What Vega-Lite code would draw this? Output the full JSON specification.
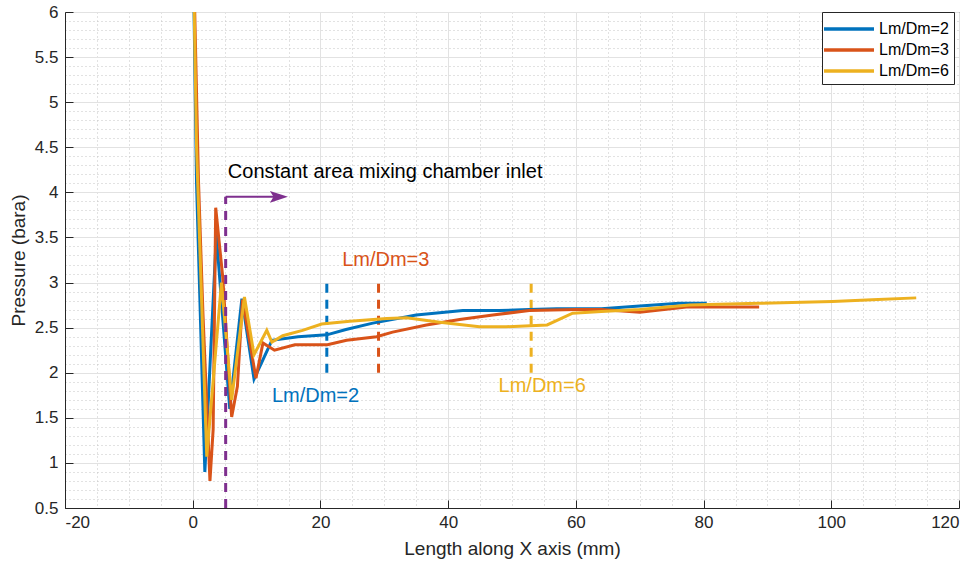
{
  "$schema": "https://vega.github.io/schema/vega-lite/v6.json",
  "autosize": {"type": "none"},
  "width": 894,
  "height": 496,
  "padding": {"left": 65, "top": 12, "right": 16, "bottom": 56},
  "background": "white",
  "config": {
    "view": {"stroke": "#262626", "strokeWidth": 1},
    "font": "Liberation Sans",
    "axis": {
      "domainColor": "#262626",
      "tickColor": "#262626",
      "labelColor": "#262626",
      "titleColor": "#262626",
      "labelFont": "Liberation Sans",
      "titleFont": "Liberation Sans",
      "labelFontSize": 17,
      "titleFontSize": 19,
      "titleFontWeight": "normal",
      "labelOverlap": false,
      "tickCount": 1000
    }
  },
  "datasets": {
    "curves": [
      {"series": "Lm/Dm=2", "x": 0, "y": 7.0},
      {"series": "Lm/Dm=2", "x": 0.6, "y": 4.1},
      {"series": "Lm/Dm=2", "x": 1.9, "y": 0.9},
      {"series": "Lm/Dm=2", "x": 3.7, "y": 3.53},
      {"series": "Lm/Dm=2", "x": 5.8, "y": 1.6},
      {"series": "Lm/Dm=2", "x": 7.7, "y": 2.82},
      {"series": "Lm/Dm=2", "x": 9.6, "y": 1.93},
      {"series": "Lm/Dm=2", "x": 12.4, "y": 2.36},
      {"series": "Lm/Dm=2", "x": 16.5, "y": 2.4},
      {"series": "Lm/Dm=2", "x": 21, "y": 2.42},
      {"series": "Lm/Dm=2", "x": 24, "y": 2.48},
      {"series": "Lm/Dm=2", "x": 28.2, "y": 2.55},
      {"series": "Lm/Dm=2", "x": 35, "y": 2.64},
      {"series": "Lm/Dm=2", "x": 42.3, "y": 2.69},
      {"series": "Lm/Dm=2", "x": 48, "y": 2.69},
      {"series": "Lm/Dm=2", "x": 52.7, "y": 2.7},
      {"series": "Lm/Dm=2", "x": 57, "y": 2.71},
      {"series": "Lm/Dm=2", "x": 64, "y": 2.71},
      {"series": "Lm/Dm=2", "x": 70, "y": 2.74},
      {"series": "Lm/Dm=2", "x": 76.2, "y": 2.77},
      {"series": "Lm/Dm=2", "x": 80.5, "y": 2.77},
      {"series": "Lm/Dm=3", "x": 0, "y": 7.0},
      {"series": "Lm/Dm=3", "x": 0.9, "y": 4.14},
      {"series": "Lm/Dm=3", "x": 1.6, "y": 2.66},
      {"series": "Lm/Dm=3", "x": 2.7, "y": 0.8},
      {"series": "Lm/Dm=3", "x": 3.2, "y": 1.37},
      {"series": "Lm/Dm=3", "x": 3.6, "y": 3.83},
      {"series": "Lm/Dm=3", "x": 4.7, "y": 3.06},
      {"series": "Lm/Dm=3", "x": 6.1, "y": 1.51},
      {"series": "Lm/Dm=3", "x": 7.0, "y": 1.85},
      {"series": "Lm/Dm=3", "x": 7.8, "y": 2.81},
      {"series": "Lm/Dm=3", "x": 9.9, "y": 1.94},
      {"series": "Lm/Dm=3", "x": 11.0, "y": 2.33},
      {"series": "Lm/Dm=3", "x": 12.8, "y": 2.25},
      {"series": "Lm/Dm=3", "x": 16, "y": 2.31},
      {"series": "Lm/Dm=3", "x": 21.1, "y": 2.31},
      {"series": "Lm/Dm=3", "x": 24.1, "y": 2.36},
      {"series": "Lm/Dm=3", "x": 28.8, "y": 2.4},
      {"series": "Lm/Dm=3", "x": 31.3, "y": 2.45},
      {"series": "Lm/Dm=3", "x": 36.6, "y": 2.53},
      {"series": "Lm/Dm=3", "x": 41.8, "y": 2.59},
      {"series": "Lm/Dm=3", "x": 47, "y": 2.64},
      {"series": "Lm/Dm=3", "x": 52.7, "y": 2.69},
      {"series": "Lm/Dm=3", "x": 60, "y": 2.7},
      {"series": "Lm/Dm=3", "x": 64, "y": 2.7},
      {"series": "Lm/Dm=3", "x": 70, "y": 2.67},
      {"series": "Lm/Dm=3", "x": 77.3, "y": 2.73},
      {"series": "Lm/Dm=3", "x": 88.7, "y": 2.73},
      {"series": "Lm/Dm=6", "x": 0, "y": 7.0},
      {"series": "Lm/Dm=6", "x": 0.6, "y": 4.5},
      {"series": "Lm/Dm=6", "x": 2.2, "y": 1.07},
      {"series": "Lm/Dm=6", "x": 4.5, "y": 3.0},
      {"series": "Lm/Dm=6", "x": 6.1, "y": 1.7},
      {"series": "Lm/Dm=6", "x": 8.1, "y": 2.84},
      {"series": "Lm/Dm=6", "x": 9.6, "y": 2.2},
      {"series": "Lm/Dm=6", "x": 11.6, "y": 2.47},
      {"series": "Lm/Dm=6", "x": 12.4, "y": 2.34},
      {"series": "Lm/Dm=6", "x": 14.1, "y": 2.41},
      {"series": "Lm/Dm=6", "x": 17.2, "y": 2.47},
      {"series": "Lm/Dm=6", "x": 20.2, "y": 2.54},
      {"series": "Lm/Dm=6", "x": 24.6, "y": 2.57},
      {"series": "Lm/Dm=6", "x": 30.4, "y": 2.6},
      {"series": "Lm/Dm=6", "x": 33.5, "y": 2.61},
      {"series": "Lm/Dm=6", "x": 38.7, "y": 2.56},
      {"series": "Lm/Dm=6", "x": 44.9, "y": 2.51},
      {"series": "Lm/Dm=6", "x": 49.1, "y": 2.51},
      {"series": "Lm/Dm=6", "x": 55.5, "y": 2.53},
      {"series": "Lm/Dm=6", "x": 59.5, "y": 2.66},
      {"series": "Lm/Dm=6", "x": 64, "y": 2.68},
      {"series": "Lm/Dm=6", "x": 70, "y": 2.7},
      {"series": "Lm/Dm=6", "x": 77.8, "y": 2.75},
      {"series": "Lm/Dm=6", "x": 88.7, "y": 2.77},
      {"series": "Lm/Dm=6", "x": 100.2, "y": 2.79},
      {"series": "Lm/Dm=6", "x": 106.4, "y": 2.81},
      {"series": "Lm/Dm=6", "x": 113.3, "y": 2.83}
    ],
    "markers": [
      {"series": "Lm/Dm=2", "x": 21.0, "y": 2.0, "y2": 3.0, "label": "Lm/Dm=2", "lx": 12.4, "ly": 1.68},
      {"series": "Lm/Dm=3", "x": 29.1, "y": 2.0, "y2": 3.0, "label": "Lm/Dm=3", "lx": 23.4, "ly": 3.18},
      {"series": "Lm/Dm=6", "x": 53.0, "y": 2.0, "y2": 3.0, "label": "Lm/Dm=6", "lx": 47.9, "ly": 1.79}
    ],
    "inlet": [
      {"x": 5.16, "y": 0.5, "y2": 3.95, "x2": 13.5, "label": "Constant area mixing chamber inlet", "lx": 5.5, "ly": 4.16}
    ]
  },
  "layer": [
    {
      "data": {"name": "markers"},
      "transform": [{"filter": "datum.series === 'Lm/Dm=2'"}],
      "mark": {"type": "rule", "strokeWidth": 3, "strokeDash": [9, 7], "color": "#0072BD"},
      "encoding": {
        "x": {"field": "x", "type": "quantitative"},
        "y": {"field": "y", "type": "quantitative"},
        "y2": {"field": "y2"}
      }
    },
    {
      "data": {"name": "markers"},
      "transform": [{"filter": "datum.series === 'Lm/Dm=3'"}],
      "mark": {"type": "rule", "strokeWidth": 3, "strokeDash": [9, 7], "color": "#D95319"},
      "encoding": {
        "x": {"field": "x", "type": "quantitative"},
        "y": {"field": "y", "type": "quantitative"},
        "y2": {"field": "y2"}
      }
    },
    {
      "data": {"name": "markers"},
      "transform": [{"filter": "datum.series === 'Lm/Dm=6'"}],
      "mark": {"type": "rule", "strokeWidth": 3, "strokeDash": [9, 7], "color": "#EDB120"},
      "encoding": {
        "x": {"field": "x", "type": "quantitative"},
        "y": {"field": "y", "type": "quantitative"},
        "y2": {"field": "y2"}
      }
    },
    {
      "data": {"name": "curves"},
      "mark": {"type": "line", "strokeWidth": 3, "clip": true},
      "encoding": {
        "x": {
          "field": "x", "type": "quantitative",
          "scale": {"domain": [-20, 120], "nice": false, "zero": false},
          "axis": {
            "title": "Length along X axis (mm)",
            "titlePadding": 9,
            "values": [-20,-15,-10,-5,0,5,10,15,20,25,30,35,40,45,50,55,60,65,70,75,80,85,90,95,100,105,110,115,120],
            "labelExpr": "datum.value % 20 === 0 ? '' + datum.value : ''",
            "labelPadding": 14,
            "tickSize": -8,
            "tickOpacity": {"condition": {"test": "datum.value % 20 !== 0", "value": 0}, "value": 1},
            "grid": true,
            "gridColor": {"condition": {"test": "datum.value % 20 !== 0", "value": "#c4c4c4"}, "value": "#e2e2e2"},
            "gridDash": {"condition": {"test": "datum.value % 20 !== 0", "value": [1, 3]}, "value": []},
            "gridWidth": 1
          }
        },
        "y": {
          "field": "y", "type": "quantitative",
          "scale": {"domain": [0.5, 6], "nice": false, "zero": false},
          "axis": {
            "title": "Pressure (bara)",
            "titlePadding": 6,
            "values": [0.5,0.6,0.7,0.8,0.9,1.0,1.1,1.2,1.3,1.4,1.5,1.6,1.7,1.8,1.9,2.0,2.1,2.2,2.3,2.4,2.5,2.6,2.7,2.8,2.9,3.0,3.1,3.2,3.3,3.4,3.5,3.6,3.7,3.8,3.9,4.0,4.1,4.2,4.3,4.4,4.5,4.6,4.7,4.8,4.9,5.0,5.1,5.2,5.3,5.4,5.5,5.6,5.7,5.8,5.9,6.0],
            "labelExpr": "abs(datum.value*2 - round(datum.value*2)) < 0.01 ? '' + round(datum.value*2)/2 : ''",
            "labelPadding": 15,
            "tickSize": -8,
            "tickOpacity": {"condition": {"test": "abs(datum.value*2 - round(datum.value*2)) > 0.01", "value": 0}, "value": 1},
            "grid": true,
            "gridColor": {"condition": {"test": "abs(datum.value*2 - round(datum.value*2)) > 0.01", "value": "#c4c4c4"}, "value": "#e2e2e2"},
            "gridDash": {"condition": {"test": "abs(datum.value*2 - round(datum.value*2)) > 0.01", "value": [1, 3]}, "value": []},
            "gridWidth": 1
          }
        },
        "color": {
          "field": "series", "type": "nominal",
          "scale": {"domain": ["Lm/Dm=2", "Lm/Dm=3", "Lm/Dm=6"], "range": ["#0072BD", "#D95319", "#EDB120"]},
          "legend": {
            "title": null,
            "orient": "none",
            "legendX": 757,
            "legendY": 0,
            "symbolType": "M-2.5,0H2.5",
            "symbolSize": 400,
            "symbolStrokeWidth": 3.5,
            "symbolOffset": 10,
            "labelOffset": 18,
            "labelFont": "Liberation Sans",
            "labelFontSize": 16,
            "labelColor": "#000000",
            "rowPadding": 1,
            "padding": 5,
            "fillColor": "white",
            "strokeColor": "#262626"
          }
        }
      }
    },
    {
      "data": {"name": "inlet"},
      "mark": {"type": "rule", "strokeWidth": 3, "strokeDash": [9, 7], "color": "#7E2F8E"},
      "encoding": {
        "x": {"field": "x", "type": "quantitative"},
        "y": {"field": "y", "type": "quantitative"},
        "y2": {"field": "y2"}
      }
    },
    {
      "data": {"name": "inlet"},
      "mark": {"type": "rule", "strokeWidth": 2, "color": "#7E2F8E"},
      "encoding": {
        "x": {"field": "x", "type": "quantitative"},
        "x2": {"field": "x2"},
        "y": {"field": "y2", "type": "quantitative"}
      }
    },
    {
      "data": {"name": "inlet"},
      "mark": {"type": "point", "shape": "M-1,-0.65L1,0L-1,0.65L-0.6,0Z", "size": 324, "filled": true, "opacity": 1, "color": "#7E2F8E"},
      "encoding": {
        "x": {"field": "x2", "type": "quantitative"},
        "y": {"field": "y2", "type": "quantitative"}
      }
    },
    {
      "data": {"name": "inlet"},
      "mark": {"type": "text", "align": "left", "baseline": "alphabetic", "fontSize": 20, "font": "Liberation Sans", "color": "#000000"},
      "encoding": {
        "x": {"field": "lx", "type": "quantitative"},
        "y": {"field": "ly", "type": "quantitative"},
        "text": {"field": "label"}
      }
    },
    {
      "data": {"name": "markers"},
      "transform": [{"filter": "datum.series === 'Lm/Dm=2'"}],
      "mark": {"type": "text", "align": "left", "baseline": "alphabetic", "fontSize": 20, "font": "Liberation Sans", "color": "#0072BD"},
      "encoding": {
        "x": {"field": "lx", "type": "quantitative"},
        "y": {"field": "ly", "type": "quantitative"},
        "text": {"field": "label"}
      }
    },
    {
      "data": {"name": "markers"},
      "transform": [{"filter": "datum.series === 'Lm/Dm=3'"}],
      "mark": {"type": "text", "align": "left", "baseline": "alphabetic", "fontSize": 20, "font": "Liberation Sans", "color": "#D95319"},
      "encoding": {
        "x": {"field": "lx", "type": "quantitative"},
        "y": {"field": "ly", "type": "quantitative"},
        "text": {"field": "label"}
      }
    },
    {
      "data": {"name": "markers"},
      "transform": [{"filter": "datum.series === 'Lm/Dm=6'"}],
      "mark": {"type": "text", "align": "left", "baseline": "alphabetic", "fontSize": 20, "font": "Liberation Sans", "color": "#EDB120"},
      "encoding": {
        "x": {"field": "lx", "type": "quantitative"},
        "y": {"field": "ly", "type": "quantitative"},
        "text": {"field": "label"}
      }
    }
  ]
}
